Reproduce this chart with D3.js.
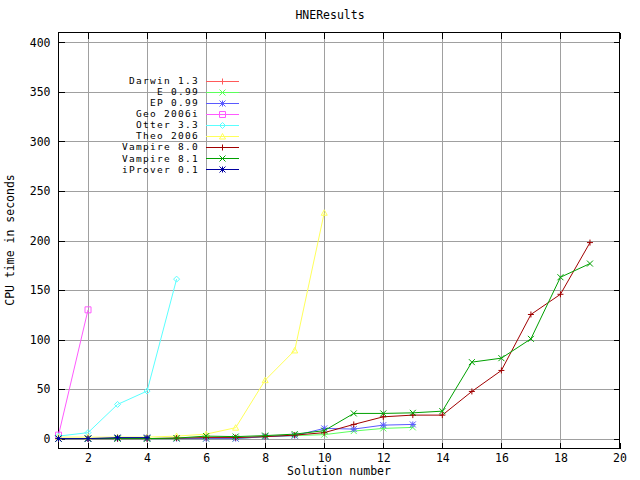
<!DOCTYPE html>
<html><head><meta charset="utf-8">
<script src="https://cdn.jsdelivr.net/npm/d3@7"></script>
<style>body{margin:0;background:#fff}svg{display:block}text{font-family:"DejaVu Sans Mono",monospace;font-size:11.5px;fill:#000}</style>
</head><body><svg id="c" width="640" height="480"></svg>
<script>
const seriesNames = ["Darwin 1.3","E 0.99","EP 0.99","Geo 2006i","Otter 3.3","Theo 2006","Vampire 8.0","Vampire 8.1","iProver 0.1"];
// values for solution number 1,2,3,...
const darwin  = [0,0,0,0];
const e099    = [0,0,0,0,0,0,0,2,3,4,7.6,10.3,11.3];
const ep099   = [0,0,0,0,0,0,0,2,3,10.3,9.6,13.6,14.3];
const geo     = [3.5,130];
const otter   = [2.5,6,34.5,48,161];
const theo    = [1.5,1.5,1.5,1.5,2.5,4.5,11,59,89,228];
const vamp80  = [0,0,0,0,0.5,1,1,2,3.5,6,14.3,22,23.7,23.7,47.6,68.8,125.3,145.7,197.9];
const vamp81  = [0,0,0,0,0.5,2.5,2,3,4.5,8,25.4,25.4,26,27.7,77.2,81.2,100.7,162.9,176.7];
const iprover = [0,0,1,1];
const xTicks = [2,4,6,8,10,12,14,16,18,20];
const yTicks = [0,50,100,150,200,250,300,350,400];
const title = "HNEResults", xTitle = "Solution number", yTitle = "CPU time in seconds";

const allValues = [darwin,e099,ep099,geo,otter,theo,vamp80,vamp81,iprover];
const colors = ["#ff5a5a","#5aff5a","#5a5aff","#ff5aff","#5affff","#ffff5a","#a00000","#00a000","#0000a0"];
const markers = ["plus","cross","star","square","diamond","triangle","plus","cross","star"];

const svg = d3.select("#c");
const L=58.5, R=619.5, T=32.5, B=448.5;
const x = d3.scaleLinear().domain([1,20]).range([L,R]);
const y = d3.scaleLinear().domain([-10,410]).range([B,T]);

// grid
const g = svg.append("g").attr("shape-rendering","crispEdges");
g.selectAll(".gx").data(xTicks.filter(v=>v<20)).join("line")
 .attr("x1",d=>Math.round(x(d))+0.5).attr("x2",d=>Math.round(x(d))+0.5).attr("y1",T).attr("y2",B)
 .attr("stroke","#a0a0a0");
g.selectAll(".gy").data(yTicks).join("line")
 .attr("y1",d=>Math.round(y(d))+0.5).attr("y2",d=>Math.round(y(d))+0.5).attr("x1",L).attr("x2",R)
 .attr("stroke","#a0a0a0");

// axes with inward ticks (mirrored)
const ax = svg.append("g").attr("shape-rendering","crispEdges");
const xb = d3.axisBottom(x).tickValues(xTicks).tickSize(-6).tickPadding(5).tickFormat(d3.format("d"));
const xt = d3.axisTop(x).tickValues(xTicks).tickSize(-6).tickFormat("");
const yl = d3.axisLeft(y).tickValues(yTicks).tickSize(-6).tickPadding(8).tickFormat(d3.format("d"));
const yr = d3.axisRight(y).tickValues(yTicks).tickSize(-6).tickFormat("");
[[xb,`translate(0,${B})`],[xt,`translate(0,${T})`],[yl,`translate(${L},0)`],[yr,`translate(${R},0)`]].forEach(([a,t])=>{
  const s = ax.append("g").attr("transform",t).call(a);
  s.select(".domain").remove();
  s.selectAll("line").attr("stroke","#000");
  s.selectAll("text").attr("font-family",null).attr("font-size",null).style("fill","#000");
});
ax.append("rect").attr("x",L).attr("y",T).attr("width",R-L).attr("height",B-T).attr("fill","none").attr("stroke","#000");

// markers
function markerPath(type){
  const s=3;
  switch(type){
    case "plus": return `M${-s},0H${s}M0,${-s}V${s}`;
    case "cross": return `M${-s},${-s}L${s},${s}M${-s},${s}L${s},${-s}`;
    case "star": return `M${-s},0H${s}M0,${-s}V${s}M${-s},${-s}L${s},${s}M${-s},${s}L${s},${-s}`;
    case "square": return `M${-s},${-s}H${s}V${s}H${-s}Z`;
    case "diamond": return `M0,${-s}L${s},0L0,${s}L${-s},0Z`;
    case "triangle": return `M0,${-s}L${s},${s-0.5}H${-s}Z`;
  }
}

const line = d3.line().x((d,i)=>x(i+1)).y(d=>y(d));
const plot = svg.append("g");
allValues.forEach((vals,k)=>{
  plot.append("path").attr("d",line(vals)).attr("fill","none").attr("stroke",colors[k]).attr("stroke-width",1);
  plot.selectAll(null).data(vals).join("path")
    .attr("transform",(d,i)=>`translate(${x(i+1)},${y(d)})`)
    .attr("d",markerPath(markers[k])).attr("fill","none").attr("stroke",colors[k]).attr("stroke-width",1);
});

// legend
const lg = svg.append("g");
seriesNames.forEach((n,k)=>{
  const yy = 80.5 + k*11.1;
  lg.append("text").attr("x",199).attr("y",yy).attr("dy","0.35em").attr("text-anchor","end")
    .style("font-size","9.5px").style("letter-spacing","1.28px").text(n);
  lg.append("line").attr("x1",206).attr("x2",239).attr("y1",Math.round(yy)+0.5).attr("y2",Math.round(yy)+0.5).attr("stroke",colors[k]);
  lg.append("path").attr("transform",`translate(222.5,${Math.round(yy)+0.5})`).attr("d",markerPath(markers[k])).attr("fill","none").attr("stroke",colors[k]);
});

// titles
svg.append("text").attr("x",330).attr("y",19).attr("text-anchor","middle").text(title);
svg.append("text").attr("x",339).attr("y",475).attr("text-anchor","middle").text(xTitle);
svg.append("text").attr("transform","translate(14,240) rotate(-90)").attr("text-anchor","middle").text(yTitle);
</script></body></html>
